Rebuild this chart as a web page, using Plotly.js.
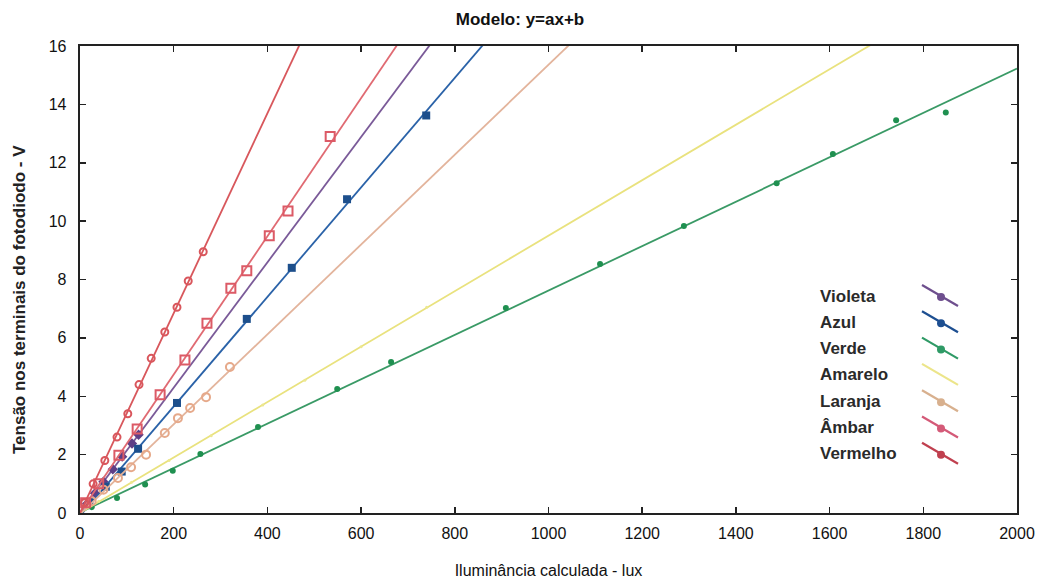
<!DOCTYPE html>
<html>
<head>
<meta charset="utf-8">
<script src="https://cdn.plot.ly/plotly-3.0.1.min.js"></script>
<style>html,body{margin:0;padding:0;background:#fff;}#chart{width:1040px;height:584px;}</style>
</head>
<body>
<div id="chart"></div>
<script>
// ---- data ----
const seriesNames = ["Violeta", "Azul", "Verde", "Amarelo", "Laranja", "Âmbar", "Vermelho"];

const violetaX = [15, 32, 50, 70, 90, 111, 125];
const violetaY = [0.32, 0.68, 1.07, 1.50, 1.93, 2.38, 2.68];

const azulX = [20, 55, 89, 124, 207, 356, 452, 570, 739];
const azulY = [0.38, 0.90, 1.42, 2.20, 3.77, 6.65, 8.40, 10.75, 13.62];

const verdeX = [25, 79, 139, 198, 257, 380, 549, 664, 909, 1110, 1289, 1487, 1607, 1742, 1848];
const verdeY = [0.20, 0.51, 0.98, 1.45, 2.02, 2.95, 4.25, 5.17, 7.02, 8.53, 9.83, 11.30, 12.30, 13.46, 13.72];

const amareloX = [40, 110, 190, 280, 390, 480, 600, 740];
const amareloY = [0.40, 1.05, 1.80, 2.65, 3.70, 4.55, 5.70, 7.05];

const laranjaX = [25, 50, 81, 109, 141, 181, 209, 235, 269, 320];
const laranjaY = [0.40, 0.80, 1.20, 1.57, 2.00, 2.74, 3.25, 3.60, 3.97, 5.00];

const ambarX = [12, 40, 83, 122, 171, 224, 271, 322, 356, 404, 444, 534];
const ambarY = [0.35, 1.00, 1.98, 2.88, 4.05, 5.24, 6.50, 7.70, 8.30, 9.50, 10.35, 12.90];

const vermelhoX = [10, 28, 53, 79, 102, 126, 152, 181, 207, 231, 263];
const vermelhoY = [0.35, 1.00, 1.80, 2.60, 3.40, 4.40, 5.30, 6.20, 7.05, 7.95, 8.95];

const xTickVals = [0, 200, 400, 600, 800, 1000, 1200, 1400, 1600, 1800, 2000];
const yTickVals = [0, 2, 4, 6, 8, 10, 12, 14, 16];
const xRange = [0, 2000];
const yRange = [0, 16];

// ---- styles ----
const styles = {
  "Violeta":  {line: "#7a5a98", mk: "#5e3f86", symbol: "diamond", size: 8, open: false},
  "Azul":     {line: "#2a62a8", mk: "#1d4f8c", symbol: "square", size: 8, open: false},
  "Verde":    {line: "#3a9a66", mk: "#1f9050", symbol: "circle", size: 6, open: false},
  "Amarelo":  {line: "#e9e27e", mk: "#ece790", symbol: "circle", size: 3, open: false},
  "Laranja":  {line: "#e3b49c", mk: "#e6a98a", symbol: "circle-open", size: 8, open: true},
  "Âmbar":    {line: "#e06a72", mk: "#dc5a66", symbol: "square-open", size: 9, open: true},
  "Vermelho": {line: "#d8575c", mk: "#d9565c", symbol: "circle-open", size: 7, open: true}
};
const legendSym = {
  "Violeta": "#6e4f8e", "Azul": "#1d4f91", "Verde": "#2f9a66", "Amarelo": "#ece58a",
  "Laranja": "#d8b08e", "Âmbar": "#d45a78", "Vermelho": "#c0404f"
};

const dataSets = [
  [violetaX, violetaY], [azulX, azulY], [verdeX, verdeY], [amareloX, amareloY],
  [laranjaX, laranjaY], [ambarX, ambarY], [vermelhoX, vermelhoY]
];

function fit(xs, ys) {
  const n = xs.length;
  let sx = 0, sy = 0, sxx = 0, sxy = 0;
  for (let i = 0; i < n; i++) { sx += xs[i]; sy += ys[i]; sxx += xs[i]*xs[i]; sxy += xs[i]*ys[i]; }
  const a = (n*sxy - sx*sy) / (n*sxx - sx*sx);
  const b = (sy - a*sx) / n;
  return {a, b};
}

const traces = [];
seriesNames.forEach((name, i) => {
  const [xs, ys] = dataSets[i];
  const st = styles[name];
  const f = fit(xs, ys);
  const lx = [xRange[0], xRange[1]];
  traces.push({
    x: lx, y: lx.map(v => f.a*v + f.b), mode: "lines", type: "scatter",
    line: {color: st.line, width: 1.8}, showlegend: false, hoverinfo: "skip"
  });
  traces.push({
    x: xs, y: ys, mode: "markers", type: "scatter", name: name, showlegend: false,
    marker: {symbol: st.symbol, size: st.size, color: st.mk, line: {color: st.mk, width: st.open ? 2 : 0}}
  });
});

// ---- custom legend (text left, symbol right) ----
const annotations = [];
const shapes = [];
const legTop = 296, legStep = 26.3;
const pw = 1040, ph = 584, L = 80, R = 23, T = 46, B = 71;
const px = v => (v - L) / (pw - L - R);
const py = v => 1 - (v - T) / (ph - T - B);
const baseFont = "Liberation Sans, Arial, sans-serif";
seriesNames.forEach((name, i) => {
  const yc = legTop + i*legStep;
  annotations.push({
    xref: "paper", yref: "paper", x: px(818), y: py(yc), xanchor: "left", yanchor: "middle",
    text: name, showarrow: false, font: {family: baseFont, size: 17, color: "#2a2a2a", weight: 600}
  });
  const c = legendSym[name];
  shapes.push({type: "line", xref: "paper", yref: "paper", x0: px(922), y0: py(yc - 11), x1: px(958), y1: py(yc + 10),
    line: {color: c, width: 2.2}});
  if (name !== "Amarelo") {
    shapes.push({type: "circle", xref: "paper", yref: "paper", x0: px(937), x1: px(945), y0: py(yc - 4 + 1), y1: py(yc + 4 + 1),
      fillcolor: c, line: {color: c, width: 0}});
  }
});

// y axis title as rotated annotation (placed like the reference)
annotations.push({
  xref: "paper", yref: "paper", x: px(19), y: py(300), xanchor: "center", yanchor: "middle",
  textangle: -90, showarrow: false,
  text: "<b>Tensão nos terminais do fotodiodo - V</b>",
  font: {family: baseFont, size: 17, color: "#222"}
});

const layout = {
  width: 1040, height: 584,
  margin: {l: L, r: R, t: T, b: B},
  paper_bgcolor: "#fff", plot_bgcolor: "#fff",
  title: {text: "<b>Modelo: y=ax+b</b>", x: 0.5, xanchor: "center", y: 0.968, yanchor: "middle",
          font: {family: baseFont, size: 17, color: "#111"}},
  xaxis: {
    range: xRange, tickvals: xTickVals, ticks: "inside", ticklen: 6, tickwidth: 1.5, tickcolor: "#222",
    showline: true, linecolor: "#222", linewidth: 2.3, mirror: "ticks", showgrid: false, zeroline: false,
    ticklabelstandoff: 4,
    tickfont: {family: baseFont, size: 16, color: "#111"},
    title: {text: "Iluminância calculada - lux", font: {family: baseFont, size: 16, color: "#111"}, standoff: 24}
  },
  yaxis: {
    range: yRange, tickvals: yTickVals, ticks: "inside", ticklen: 6, tickwidth: 1.5, tickcolor: "#222",
    showline: true, linecolor: "#222", linewidth: 2.3, mirror: "ticks", showgrid: false, zeroline: false,
    ticklabelstandoff: 8,
    tickfont: {family: baseFont, size: 16, color: "#111"}
  },
  annotations: annotations,
  shapes: shapes
};

Plotly.newPlot("chart", traces, layout, {displayModeBar: false, staticPlot: true});
</script>
</body>
</html>
